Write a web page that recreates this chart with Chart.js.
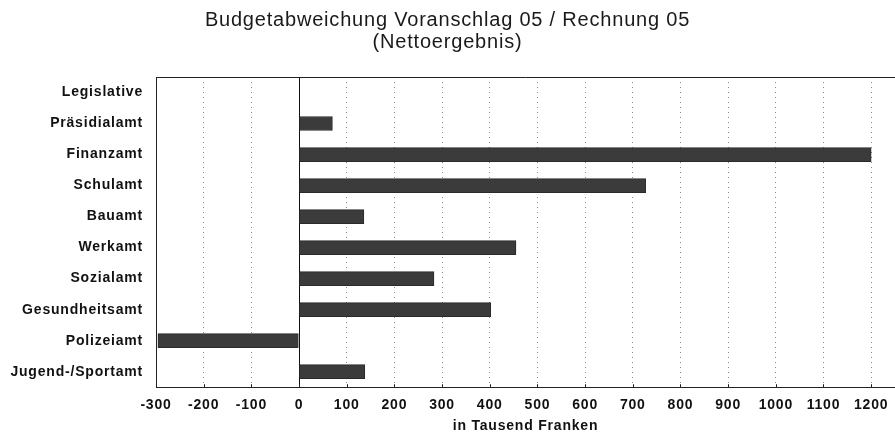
<!DOCTYPE html>
<html>
<head>
<meta charset="utf-8">
<script src="https://cdn.jsdelivr.net/npm/chart.js@4/dist/chart.umd.min.js"></script>
<style>
  html, body { margin: 0; padding: 0; background: #fff; }
  #wrap { width: 895px; height: 436px; }
</style>
</head>
<body>
<div id="wrap"><canvas id="canvas"></canvas></div>
<script>
// Budgetabweichung (in Tausend Franken)
var departments = [
  "Legislative",
  "Präsidialamt",
  "Finanzamt",
  "Schulamt",
  "Bauamt",
  "Werkamt",
  "Sozialamt",
  "Gesundheitsamt",
  "Polizeiamt",
  "Jugend-/Sportamt",
];
var deviation = [0, 70, 1200, 727, 136, 455, 283, 402, -296, 138];
var xTicks = [-300, -200, -100, 0, 100, 200, 300, 400, 500, 600, 700, 800, 900, 1000, 1100, 1200];

var fontName = "'Liberation Sans', Arial, sans-serif";

// the scanned original has wide letter spacing
const spacingPlugin = {
  id: "spacing",
  beforeUpdate(chart) { chart.ctx.letterSpacing = "0.8px"; },
  beforeLayout(chart) { chart.ctx.letterSpacing = "0.8px"; },
  beforeDraw(chart) { chart.ctx.letterSpacing = "0.8px"; },
};

// frame round the plot area, small ticks pointing up from the x axis
const framePlugin = {
  id: "frame",
  afterDraw(chart) {
    const a = chart.chartArea;
    const c = chart.ctx;
    const xs = chart.scales.x;
    c.save();
    c.strokeStyle = "#222";
    c.lineWidth = 1;
    c.setLineDash([]);
    c.beginPath();
    c.moveTo(a.left + 0.5, a.bottom);
    c.lineTo(a.left + 0.5, a.top + 0.5);
    c.lineTo(a.right, a.top + 0.5);
    xTicks.forEach((v) => {
      const px = Math.round(xs.getPixelForValue(v)) + 0.5;
      c.moveTo(px, a.bottom);
      c.lineTo(px, a.bottom - 3);
    });
    c.stroke();
    c.restore();
  },
};

const input_data = {
  labels: departments,
  datasets: [
    {
      data: deviation,
      backgroundColor: "#3b3b3b",
      borderColor: "#2a2a2a",
      borderWidth: 1,
      barThickness: 14,
    },
  ],
};

const config = {
  type: "bar",
  data: input_data,
  options: {
    indexAxis: "y",
    responsive: true,
    maintainAspectRatio: false,
    animation: false,
    layout: { padding: { left: 0, right: 0, top: 0, bottom: 0 } },
    plugins: {
      legend: { display: false },
      tooltip: { enabled: false },
      title: {
        display: true,
        text: ["Budgetabweichung Voranschlag 05 / Rechnung 05", "(Nettoergebnis)"],
        color: "#1a1a1a",
        font: { family: fontName, size: 20, weight: "normal", lineHeight: 1.1 },
        padding: { top: 9, bottom: 24 },
      },
    },
    scales: {
      x: {
        min: -300,
        max: 1250,
        afterBuildTicks(scale) {
          scale.ticks = xTicks.map((v) => ({ value: v }));
        },
        ticks: {
          color: "#111",
          font: { family: fontName, size: 14, weight: "bold", lineHeight: 1 },
          padding: 6,
          maxRotation: 0,
          autoSkip: false,
          callback: (v) => String(v),
        },
        grid: {
          drawOnChartArea: true,
          drawTicks: true,
          tickLength: 5,
          tickColor: "rgba(0,0,0,0)",
          color: (ctx) => (ctx.tick && ctx.tick.value === 0 ? "#111" : "#8a8a8a"),
          lineWidth: 1,
        },
        border: {
          display: true,
          color: "#222",
          width: 1,
          dash: (ctx) => (ctx.tick && ctx.tick.value === 0 ? [] : [1, 4]),
        },
        title: {
          display: true,
          text: "in Tausend Franken",
          color: "#111",
          font: { family: fontName, size: 14, weight: "bold" },
          padding: { top: 0, bottom: 1 },
        },
      },
      y: {
        afterFit(scale) {
          scale.width = 156;
        },
        ticks: {
          color: "#111",
          font: { family: fontName, size: 14, weight: "bold" },
          padding: 13,
        },
        grid: { display: false, drawTicks: false },
        border: { display: true, color: "#222" },
      },
    },
  },
  plugins: [spacingPlugin, framePlugin],
};

const myChart = new Chart(document.getElementById("canvas"), config);
</script>
</body>
</html>
